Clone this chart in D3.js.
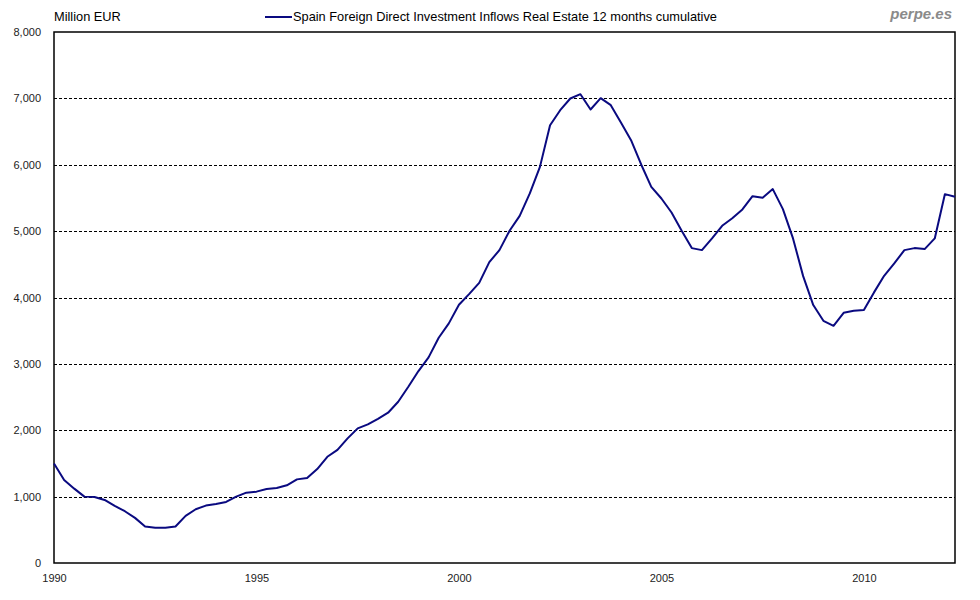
<!DOCTYPE html>
<html>
<head>
<meta charset="utf-8">
<script src="https://cdn.jsdelivr.net/npm/d3@7"></script>
<style>
  body { margin: 0; background: #fff; }
  svg { display: block; }
</style>
</head>
<body>
<div id="chart"></div>
<script>
// quarterly, first point is 1990 Q1
const startYear = 1990;
const fdiValues = [
  1500, 1250, 1120, 1000,
  995, 950, 860, 780,
  680, 550, 530, 530,
  550, 710, 810, 865,
  890, 920, 1000, 1060,
  1075, 1115, 1130, 1170,
  1260, 1280, 1415, 1600,
  1705, 1878, 2028, 2088,
  2173, 2264, 2430, 2655,
  2892, 3098, 3393, 3610,
  3890, 4051, 4221, 4533,
  4714, 5005, 5230, 5568,
  5968, 6596, 6822, 6998,
  7063, 6833, 7003, 6898,
  6637, 6370, 6004, 5667,
  5492, 5281, 5005, 4744,
  4714, 4890, 5080, 5195,
  5327, 5527, 5502, 5633,
  5331, 4890, 4322, 3886,
  3649, 3574, 3770, 3800,
  3810, 4077, 4327, 4513,
  4714, 4744, 4729, 4890,
  5557, 5517
];
const yTicks = [0, 1000, 2000, 3000, 4000, 5000, 6000, 7000, 8000];
const xTicks = [1990, 1995, 2000, 2005, 2010];
const unitLabel = "Million EUR";
const seriesName = "Spain Foreign Direct Investment Inflows Real Estate 12 months cumulative";
const brand = "perpe.es";

const width = 980, height = 600;
const margin = {top: 32, right: 25, bottom: 37, left: 54};

const data = fdiValues.map((v, i) => ({t: startYear + i / 4, v: v}));

const svg = d3.select("#chart").append("svg")
  .attr("width", width)
  .attr("height", height);

const x = d3.scaleLinear()
  .domain([startYear, data[data.length - 1].t])
  .range([margin.left, width - margin.right]);

const y = d3.scaleLinear()
  .domain([0, 8000])
  .range([height - margin.bottom, margin.top]);

// dashed gridlines
svg.append("g")
  .selectAll("line")
  .data(yTicks.filter(d => d > 0 && d < 8000))
  .join("line")
    .attr("x1", margin.left)
    .attr("x2", width - margin.right)
    .attr("y1", d => Math.round(y(d)) + 0.5)
    .attr("y2", d => Math.round(y(d)) + 0.5)
    .attr("stroke", "#000")
    .attr("stroke-width", 1)
    .attr("stroke-dasharray", "3,2");

// y labels
svg.append("g")
  .attr("transform", `translate(${margin.left - 13},0)`)
  .call(d3.axisLeft(y).tickValues(yTicks).tickFormat(d3.format(",")).tickSize(0).tickPadding(0))
  .call(g => g.select(".domain").remove())
  .call(g => g.selectAll("text")
    .attr("fill", "#222")
    .style("font", "11px 'Liberation Sans', Arial, sans-serif"));

// x labels
svg.append("g")
  .attr("transform", `translate(0,${height - margin.bottom + 11})`)
  .call(d3.axisBottom(x).tickValues(xTicks).tickFormat(d3.format("d")).tickSize(0).tickPadding(0))
  .call(g => g.select(".domain").remove())
  .call(g => g.selectAll("text")
    .attr("fill", "#222")
    .style("font", "11px 'Liberation Sans', Arial, sans-serif"));

// plot frame
svg.append("rect")
  .attr("x", margin.left)
  .attr("y", margin.top)
  .attr("width", width - margin.left - margin.right)
  .attr("height", height - margin.top - margin.bottom)
  .attr("fill", "none")
  .attr("stroke", "#000")
  .attr("stroke-width", 1.5);

// series line
const line = d3.line()
  .x(d => x(d.t))
  .y(d => y(d.v));

svg.append("path")
  .datum(data)
  .attr("fill", "none")
  .attr("stroke", "#0a0a80")
  .attr("stroke-width", 2)
  .attr("stroke-linejoin", "round")
  .attr("d", line);

// top texts
svg.append("text")
  .attr("x", margin.left)
  .attr("y", 21)
  .style("font", "12.8px 'Liberation Sans', Arial, sans-serif")
  .attr("fill", "#000")
  .text(unitLabel);

svg.append("line")
  .attr("x1", 265).attr("x2", 292)
  .attr("y1", 17).attr("y2", 17)
  .attr("stroke", "#0a0a80")
  .attr("stroke-width", 2);

svg.append("text")
  .attr("x", 293)
  .attr("y", 21)
  .style("font", "12.8px 'Liberation Sans', Arial, sans-serif")
  .attr("fill", "#000")
  .text(seriesName);

svg.append("text")
  .attr("x", 952)
  .attr("y", 19)
  .attr("text-anchor", "end")
  .style("font", "italic bold 15px 'Liberation Sans', Arial, sans-serif")
  .attr("fill", "#8a8a8a")
  .text(brand);
</script>
</body>
</html>
